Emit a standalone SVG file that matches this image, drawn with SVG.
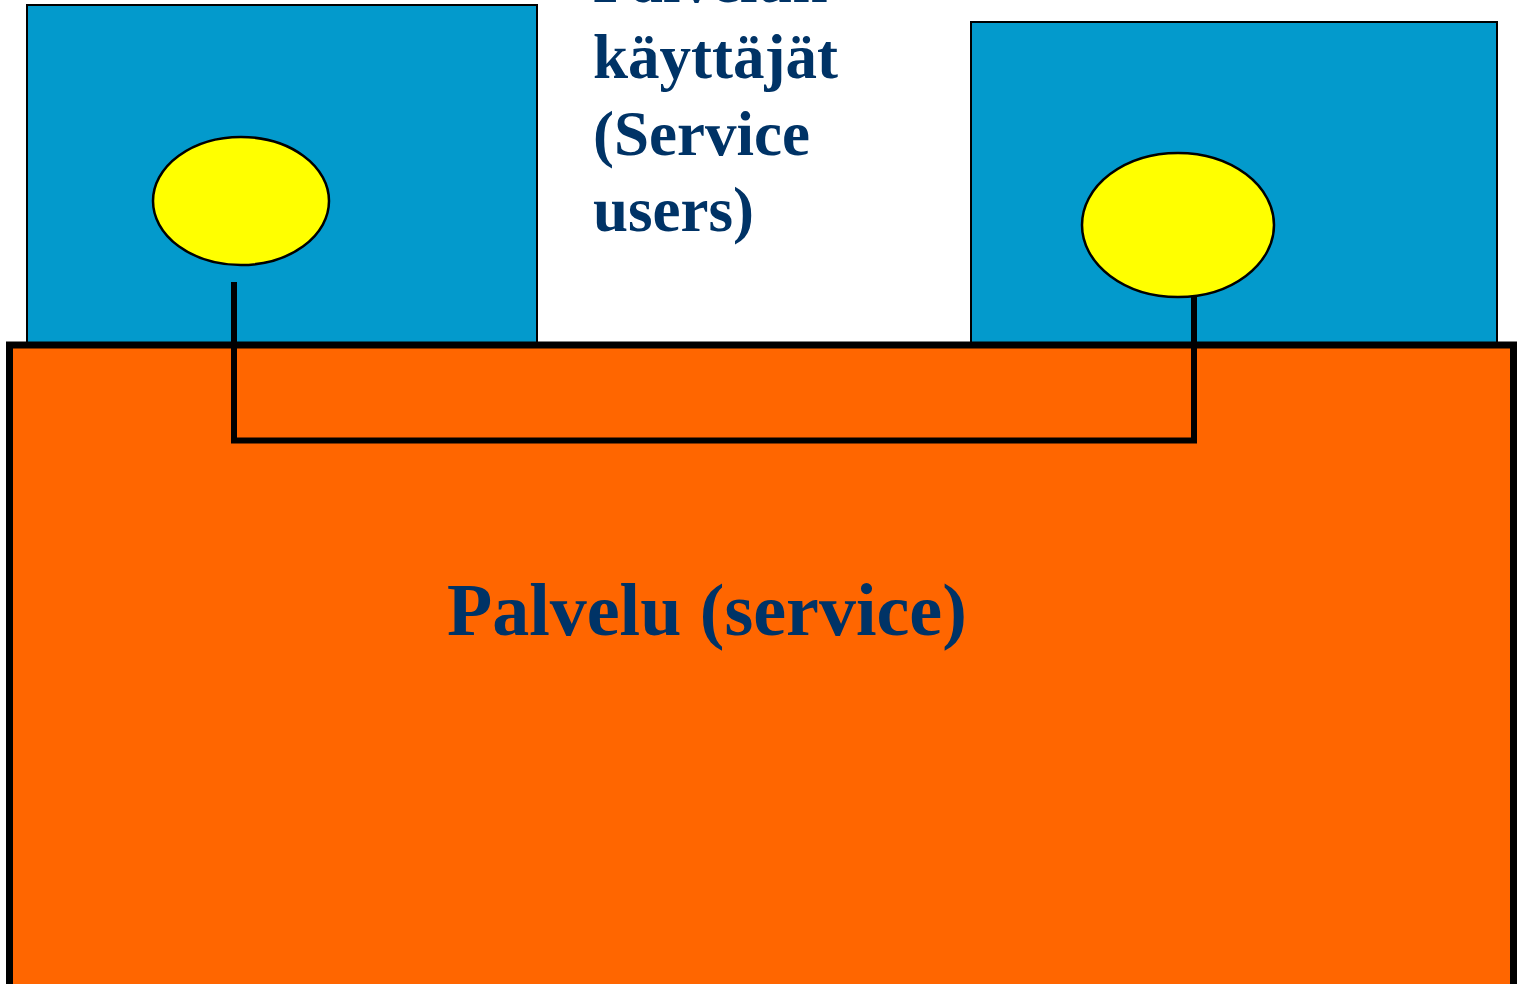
<svg xmlns="http://www.w3.org/2000/svg" width="1517" height="984" viewBox="0 0 1517 984">
  <style>
    .user { fill: #039ACC; stroke: #000; stroke-width: 2; }
    .sap { fill: #FFFF00; stroke: #000; stroke-width: 2.5; }
    .service { fill: #FF6600; stroke: #000; stroke-width: 7; }
    .link { fill: none; stroke: #000; stroke-width: 6; }
    .label { font-family: "Liberation Serif", "Times New Roman", serif; font-weight: bold; fill: #003366; }
    .users-text { font-size: 63px; }
    .service-text { font-size: 74px; }
  </style>
  <rect width="1517" height="984" fill="#fff"/>

  <g id="user-left">
    <rect class="user" x="27" y="5" width="510" height="340"/>
    <ellipse class="sap" cx="241" cy="201" rx="88" ry="64"/>
  </g>

  <g id="user-right">
    <rect class="user" x="971" y="22" width="526" height="323"/>
    <ellipse class="sap" cx="1178" cy="225" rx="96" ry="72"/>
  </g>

  <g id="users-label">
    <text class="label users-text" x="593" y="1.5">Palvelun</text>
    <text class="label users-text" x="593" y="78">käyttäjät</text>
    <text class="label users-text" x="593" y="155">(Service</text>
    <text class="label users-text" x="593" y="231">users)</text>
  </g>

  <g id="service">
    <rect class="service" x="9.5" y="345" width="1504" height="645"/>
    <text class="label service-text" x="447" y="635">Palvelu (service)</text>
  </g>

  <g id="connectors">
    <path class="link" d="M234 282 V440.5 H1194 V297"/>
  </g>
</svg>
